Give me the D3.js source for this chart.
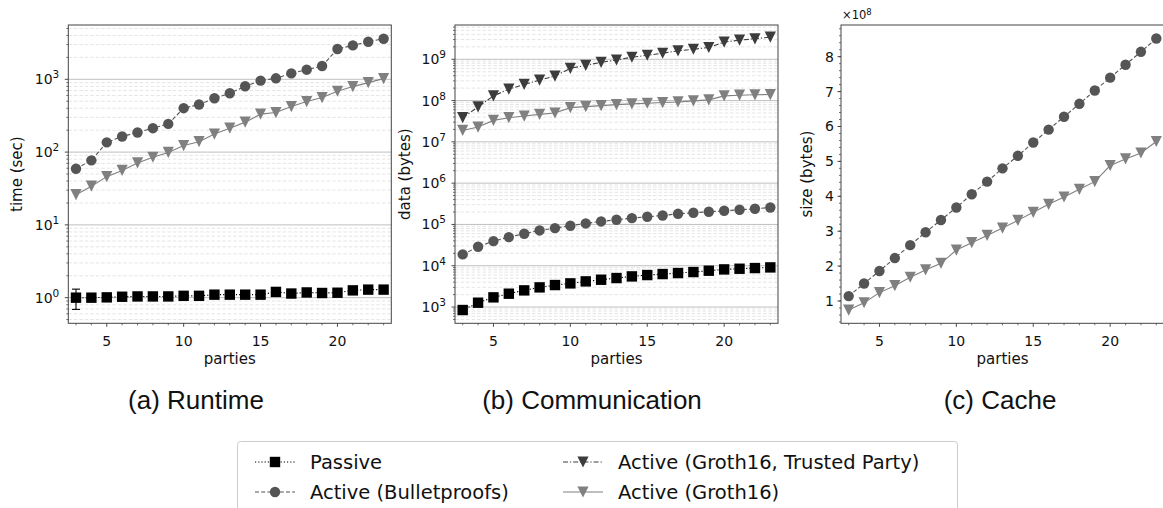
<!DOCTYPE html>
<html><head><meta charset="utf-8">
<script src="https://cdn.jsdelivr.net/npm/d3@7"></script>
<style>
body{margin:0;background:#fff;}
svg{display:block;font-family:"DejaVu Sans",sans-serif;}
</style></head>
<body><svg id="c" width="1163" height="508"></svg>
<script>
const parties = [3,4,5,6,7,8,9,10,11,12,13,14,15,16,17,18,19,20,21,22,23];

// (a) Runtime, seconds
const runtimePassive = [1.00,1.00,1.01,1.03,1.04,1.04,1.04,1.06,1.06,1.10,1.10,1.10,1.10,1.20,1.14,1.18,1.16,1.17,1.26,1.29,1.29];
const runtimePassiveErr = [0.31,0,0,0,0,0,0,0,0,0,0,0,0,0,0,0,0,0,0,0.04,0];
const runtimeBulletproofs = [59,77,136,164,186,213,244,401,450,549,643,802,959,1032,1208,1356,1523,2606,2924,3282,3609];
const runtimeGroth16 = [26,34,46,56,71,85,99,123,139,177,213,258,332,349,422,495,561,685,794,900,1021];

// (b) Communication, bytes
const commPassive = [846,1273,1715,2103,2531,2991,3406,3739,4179,4584,5032,5518,5944,6287,6649,7031,7573,8152,8458,8782,9116];
const commBulletproofs = [18800,28800,39500,49400,59500,71600,81500,92900,105800,118200,129700,142300,153200,165000,181000,191500,202500,214000,226400,239400,257700];
const commGroth16Trusted = [3.85e7,7.0e7,1.30e8,1.89e8,2.46e8,3.13e8,3.92e8,6.03e8,7.14e8,8.45e8,9.6e8,1.12e9,1.25e9,1.40e9,1.60e9,1.75e9,1.93e9,2.60e9,2.91e9,3.13e9,3.44e9];
const commGroth16 = [1.89e7,2.28e7,3.31e7,3.85e7,4.22e7,4.64e7,5.0e7,6.74e7,7.14e7,7.55e7,7.99e7,8.3e7,8.61e7,8.94e7,9.27e7,9.81e7,1.04e8,1.30e8,1.35e8,1.38e8,1.40e8];

// (c) Cache, bytes
const cacheBulletproofs = [1.14e8,1.50e8,1.86e8,2.23e8,2.60e8,2.97e8,3.32e8,3.68e8,4.06e8,4.42e8,4.80e8,5.16e8,5.54e8,5.91e8,6.28e8,6.65e8,7.03e8,7.40e8,7.77e8,8.14e8,8.52e8];
const cacheGroth16 = [0.74e8,0.95e8,1.24e8,1.44e8,1.68e8,1.89e8,2.08e8,2.46e8,2.67e8,2.88e8,3.09e8,3.31e8,3.54e8,3.77e8,3.98e8,4.20e8,4.42e8,4.88e8,5.07e8,5.24e8,5.57e8];

const xTicks = [5,10,15,20];
const subcaptions = ["(a) Runtime","(b) Communication","(c) Cache"];
const yLabels = ["time (sec)","data (bytes)","size (bytes)"];
const cacheTicks = [1,2,3,4,5,6,7,8];
const legendLabels = ["Passive","Active (Bulletproofs)","Active (Groth16, Trusted Party)","Active (Groth16)"];

const styles = {
  passive:{color:"#000000", dash:"1.2,2", marker:"square"},
  bullet:{color:"#555555", dash:"4,2.2", marker:"circle"},
  trusted:{color:"#3c3c3c", dash:"5,2,1.2,2", marker:"tri"},
  groth:{color:"#808080", dash:null, marker:"tri"}
};

const svg = d3.select("#c");
const PW = 323, PT = 25, PH = 298.3;
const panels = [
  {left:68.3, log:true, dom:[Math.pow(10,-0.352), Math.pow(10,3.746)], ylab:yLabels[0], ylabX:21.5, capX:196,
   series:[["passive",runtimePassive,runtimePassiveErr],["bullet",runtimeBulletproofs],["groth",runtimeGroth16]]},
  {left:455, log:true, dom:[Math.pow(10,2.606), Math.pow(10,9.83)], ylab:yLabels[1], ylabX:409.5, capX:592,
   series:[["passive",commPassive],["bullet",commBulletproofs],["trusted",commGroth16Trusted],["groth",commGroth16]]},
  {left:841, log:false, dom:[0.361e8, 8.908e8], ylab:yLabels[2], ylabX:812, capX:1000,
   series:[["bullet",cacheBulletproofs],["groth",cacheGroth16]]}
];

function drawMarker(g, type, x, y, color){
  if(type==="square"){
    g.append("rect").attr("x",x-5.2).attr("y",y-5.2).attr("width",10.4).attr("height",10.4).attr("fill",color);
  } else if(type==="circle"){
    g.append("circle").attr("cx",x).attr("cy",y).attr("r",5.2).attr("fill",color);
  } else {
    const s=5.6;
    g.append("path").attr("d",`M${x-s},${y-s}L${x+s},${y-s}L${x},${y+s}Z`).attr("fill",color);
  }
}

panels.forEach((p,i)=>{
  const g = svg.append("g");
  const x = d3.scaleLinear().domain([2.5,23.5]).range([p.left, p.left+PW]);
  const y = (p.log? d3.scaleLog(): d3.scaleLinear()).domain(p.dom).range([PT+PH, PT]);
  const bottom = PT+PH;

  if(p.log){
    const lo = Math.floor(Math.log10(p.dom[0])), hi = Math.ceil(Math.log10(p.dom[1]));
    for(let e=lo;e<=hi;e++){
      for(let m=1;m<10;m++){
        const v = m*Math.pow(10,e);
        if(v<p.dom[0]||v>p.dom[1]) continue;
        const yy = y(v);
        if(m===1){
          g.append("line").attr("x1",p.left).attr("x2",p.left+PW).attr("y1",yy).attr("y2",yy)
            .attr("stroke","#b8b8b8").attr("stroke-width",0.9);
          g.append("line").attr("x1",p.left-3.5).attr("x2",p.left).attr("y1",yy).attr("y2",yy).attr("stroke","#333").attr("stroke-width",0.9);
          const t = g.append("text").attr("x",p.left-9).attr("y",yy+5).attr("text-anchor","end").attr("font-size",14).attr("fill","#111");
          t.append("tspan").text("10");
          t.append("tspan").attr("dy",-6).attr("font-size",10.5).text(String(e));
        } else {
          g.append("line").attr("x1",p.left).attr("x2",p.left+PW).attr("y1",yy).attr("y2",yy)
            .attr("stroke","#dedede").attr("stroke-width",0.8).attr("stroke-dasharray","3.5,2");
          g.append("line").attr("x1",p.left-2).attr("x2",p.left).attr("y1",yy).attr("y2",yy).attr("stroke","#333").attr("stroke-width",0.7);
        }
      }
    }
  } else {
    const minor = d3.range(Math.ceil(p.dom[0]/0.2e8), Math.floor(p.dom[1]/0.2e8)+1).map(k=>k*0.2e8);
    minor.forEach(v=>{
      const yy=y(v);
      g.append("line").attr("x1",p.left-2).attr("x2",p.left).attr("y1",yy).attr("y2",yy).attr("stroke","#333").attr("stroke-width",0.7);
    });
    cacheTicks.forEach(v=>{
      const yy=y(v*1e8);
      g.append("line").attr("x1",p.left-3.5).attr("x2",p.left).attr("y1",yy).attr("y2",yy).attr("stroke","#333").attr("stroke-width",0.9);
      g.append("text").attr("x",p.left-7).attr("y",yy+5).attr("text-anchor","end").attr("font-size",14).attr("fill","#111").text(v);
    });
    const t = g.append("text").attr("x",p.left+1).attr("y",PT-6).attr("font-size",11.5).attr("fill","#111");
    t.append("tspan").text("×10");
    t.append("tspan").attr("dy",-4.5).attr("font-size",8.5).text("8");
  }

  parties.forEach(v=>{
    const xx = x(v);
    const major = xTicks.includes(v);
    g.append("line").attr("x1",xx).attr("x2",xx).attr("y1",bottom).attr("y2",bottom+(major?3.5:2)).attr("stroke","#333").attr("stroke-width",major?0.9:0.7);
  });
  xTicks.forEach(v=>{
    g.append("text").attr("x",x(v)).attr("y",bottom+22.5).attr("text-anchor","middle").attr("font-size",14).attr("fill","#111").text(v);
  });
  g.append("text").attr("x",p.left+PW/2).attr("y",bottom+41).attr("text-anchor","middle").attr("font-size",15).attr("fill","#111").text("parties");
  g.append("text").attr("transform",`translate(${p.ylabX},${PT+PH/2}) rotate(-90)`).attr("text-anchor","middle").attr("font-size",15).attr("fill","#111").text(p.ylab);

  const sg = g.append("g");
  p.series.forEach(([key,vals,err])=>{
    const st = styles[key];
    const line = d3.line().x((d,j)=>x(parties[j])).y(d=>y(d));
    const path = sg.append("path").attr("d",line(vals)).attr("fill","none").attr("stroke",st.color).attr("stroke-width",1.1);
    if(st.dash) path.attr("stroke-dasharray",st.dash);
    if(err){
      err.forEach((e,j)=>{
        if(!e) return;
        const xx=x(parties[j]), y1=y(vals[j]-e), y2=y(vals[j]+e);
        sg.append("line").attr("x1",xx).attr("x2",xx).attr("y1",y1).attr("y2",y2).attr("stroke",st.color).attr("stroke-width",1.1);
        [y1,y2].forEach(yy=>sg.append("line").attr("x1",xx-4).attr("x2",xx+4).attr("y1",yy).attr("y2",yy).attr("stroke",st.color).attr("stroke-width",1.1));
      });
    }
    vals.forEach((v,j)=>drawMarker(sg, st.marker, x(parties[j]), y(v), st.color));
  });

  g.append("rect").attr("x",p.left).attr("y",PT).attr("width",PW).attr("height",PH).attr("fill","none").attr("stroke","#444").attr("stroke-width",1);

  svg.append("text").attr("x",p.capX).attr("y",409).attr("text-anchor","middle")
    .attr("font-family","'Liberation Sans',Arial,sans-serif").attr("font-size",26).attr("fill","#111").text(subcaptions[i]);
});

const lg = svg.append("g");
lg.append("rect").attr("x",237.5).attr("y",441.5).attr("width",720).attr("height",80).attr("rx",3)
  .attr("fill","#fff").attr("stroke","#cccccc").attr("stroke-width",1);
const legendItems = [
  {key:"passive", x:255, y:462, label:legendLabels[0]},
  {key:"bullet", x:255, y:492, label:legendLabels[1]},
  {key:"trusted", x:563, y:462, label:legendLabels[2]},
  {key:"groth", x:563, y:492, label:legendLabels[3]}
];
legendItems.forEach(it=>{
  const st = styles[it.key];
  const l = lg.append("line").attr("x1",it.x).attr("x2",it.x+40).attr("y1",it.y).attr("y2",it.y).attr("stroke",st.color).attr("stroke-width",1.1);
  if(st.dash) l.attr("stroke-dasharray",st.dash);
  drawMarker(lg, st.marker, it.x+20, it.y, st.color);
  lg.append("text").attr("x",it.x+55).attr("y",it.y+7).attr("font-size",19.5).attr("fill","#111").text(it.label);
});
</script></body></html>
